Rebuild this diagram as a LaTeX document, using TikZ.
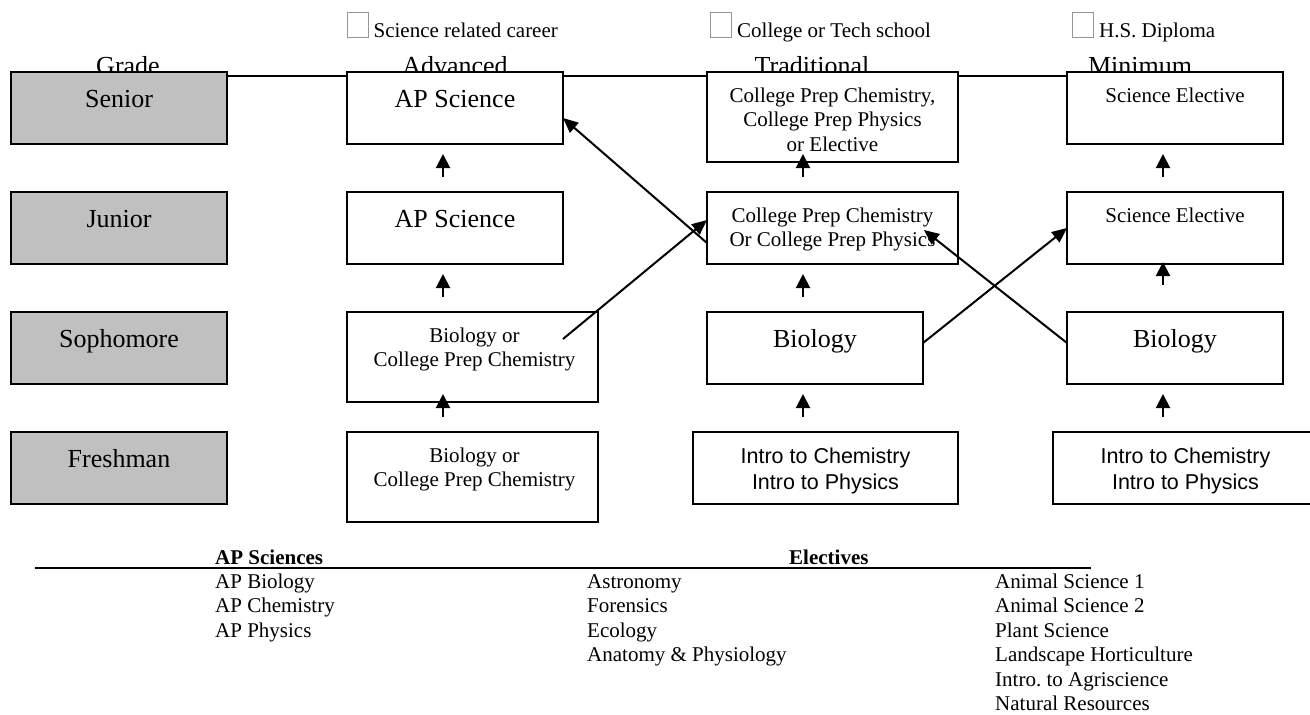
\documentclass[tikz,border=0pt]{standalone}
\usepackage{fontspec}
\setmainfont{Liberation Serif}
\newfontfamily\introfont{Liberation Sans}
\usetikzlibrary{arrows.meta, calc, backgrounds}

\definecolor{gradegray}{RGB}{192,192,192}
\definecolor{tickgray}{RGB}{150,150,150}
\newcommand{\bigtxt}{\fontsize{26}{30}\selectfont}
\newcommand{\smalltxt}{\fontsize{21}{24.5}\selectfont}
\newcommand{\introtxt}{\introfont\fontsize{21.5}{26.5}\selectfont}

\tikzset{
  coursebox/.style={draw, line width=2.4pt, fill=white, inner sep=0pt, outer sep=0pt},
  gradebox/.style={coursebox, fill=gradegray},
  bigtext/.style={font=\bigtxt, inner sep=0pt, anchor=base},
  smalltext/.style={font=\smalltxt, inner sep=0pt, align=center, anchor=north},
  introtext/.style={font=\introtxt, inner sep=0pt, align=center, anchor=north},
  itemtext/.style={font=\smalltxt, inner sep=0pt, anchor=base west},
  checkbox/.style={draw=tickgray, line width=0.9pt, minimum width=21pt, minimum height=25pt, inner sep=0pt},
  steparrow/.style={-{Triangle[length=14pt,width=14pt]}, line width=2pt},
  crossarrow/.style={-{Triangle[length=15pt,width=13pt]}, line width=2pt}
}

\begin{document}
\begin{tikzpicture}[x=1pt,y=-1pt]
\useasboundingbox (0,0) rectangle (1310,715);

% goals
\node[checkbox] (cadv) at (357.5,24.5) {};
\node[itemtext] (gadv) at ($(cadv.south east)+(5,0)$) {Science related career};
\node[checkbox] (ctrad) at (721,24.5) {};
\node[itemtext] (gtrad) at ($(ctrad.south east)+(5,0)$) {College or Tech school};
\node[checkbox] (cmin) at (1083,24.5) {};
\node[itemtext] (gmin) at ($(cmin.south east)+(5,0)$) {H.S. Diploma};

% column heads
\node[bigtext] (hgrade) at (128,74) {Grade};
\node[bigtext] (hadv) at (455,74) {Advanced};
\node[bigtext] (htrad) at (812,74) {Traditional};
\node[bigtext] (hmin) at (1140,74) {Minimum};

% grades
\node[gradebox, minimum width=216pt, minimum height=72pt] (gs) at (119,108) {};
\node[gradebox, minimum width=216pt, minimum height=72pt] (gj) at (119,228) {};
\node[gradebox, minimum width=216pt, minimum height=72pt] (gp) at (119,348) {};
\node[gradebox, minimum width=216pt, minimum height=72pt] (gf) at (119,468) {};

% advanced
\node[coursebox, minimum width=216pt, minimum height=72pt] (as) at (455,108) {};
\node[coursebox, minimum width=216pt, minimum height=72pt] (aj) at (455,228) {};
\node[coursebox, minimum width=251pt, minimum height=90pt] (ap) at (472.5,357) {};
\node[coursebox, minimum width=251pt, minimum height=90pt] (af) at (472.5,477) {};

% traditional
\node[coursebox, minimum width=251pt, minimum height=90pt] (ts) at (832.5,117) {};
\node[coursebox, minimum width=251pt, minimum height=72pt] (tj) at (832.5,228) {};
\node[coursebox, minimum width=216pt, minimum height=72pt] (tp) at (815,348) {};
\node[coursebox, minimum width=265pt, minimum height=72pt] (tf) at (825.5,468) {};

% minimum
\node[coursebox, minimum width=216pt, minimum height=72pt] (ms) at (1175,108) {};
\node[coursebox, minimum width=216pt, minimum height=72pt] (mj) at (1175,228) {};
\node[coursebox, minimum width=216pt, minimum height=72pt] (mp) at (1175,348) {};
\node[coursebox, minimum width=265pt, minimum height=72pt] (mf) at (1185.5,468) {};

\begin{scope}[on background layer]
  \draw[line width=2.4pt] ($(gs.north east)+(0,4)$) -- ($(ms.north west)+(0,4)$);
\end{scope}

\node[bigtext] (tgs) at ($(gs.north)+(0,35)$) {Senior};
\node[bigtext] (tgj) at ($(gj.north)+(0,35)$) {Junior};
\node[bigtext] (tgp) at ($(gp.north)+(0,35)$) {Sophomore};
\node[bigtext] (tgf) at ($(gf.north)+(0,35)$) {Freshman};

\node[bigtext] (tas) at ($(as.north)+(0,35)$) {AP Science};
\node[bigtext] (taj) at ($(aj.north)+(0,35)$) {AP Science};
\node[smalltext] (tap) at ($(ap.north)+(2,15.7)$) {Biology or\\College Prep Chemistry};
\node[smalltext] (taf) at ($(af.north)+(2,15.7)$) {Biology or\\College Prep Chemistry};

\node[smalltext] (tts) at ($(ts.north)+(0,15.7)$) {College Prep Chemistry,\\College Prep Physics\\or Elective};
\node[smalltext] (ttj) at ($(tj.north)+(0,15.7)$) {College Prep Chemistry\\Or College Prep Physics};
\node[bigtext] (ttp) at ($(tp.north)+(0,35)$) {Biology};
\node[introtext] (ttf) at ($(tf.north)+(0,15.3)$) {Intro to Chemistry\\Intro to Physics};

\node[smalltext] (tms) at ($(ms.north)+(0,15.7)$) {Science Elective};
\node[smalltext] (tmj) at ($(mj.north)+(0,15.7)$) {Science Elective};
\node[bigtext] (tmp) at ($(mp.north)+(0,35)$) {Biology};
\node[introtext] (tmf) at ($(mf.north)+(0,15.3)$) {Intro to Chemistry\\Intro to Physics};

% arrows up the columns
\coordinate (ax) at (443,0);
\coordinate (tx) at (803,0);
\coordinate (mx) at (1163,0);
\foreach \lo/\hi/\col/\a/\b in {aj/as/ax/-15/10, ap/aj/ax/-15/10, af/ap/ax/-15/-8,
                                tj/ts/tx/-15/-8, tp/tj/tx/-15/10, tf/tp/tx/-15/10,
                                mj/ms/mx/-15/10, mp/mj/mx/-27/-2, mf/mp/mx/-15/10}
  \draw[steparrow] ($(\col |- \lo.north)+(0,\a)$) -- ($(\col |- \hi.south)+(0,\b)$);

% cross overs
\draw[crossarrow] ($(tj.west)+(0,15)$) -- ($(as.east)+(0,10)$);
\draw[crossarrow] ($(ap.east)+(-35,-18)$) -- ($(tj.west)+(0,-8)$);
\draw[crossarrow] ($(tp.east)+(0,-5)$) -- (mj.west);
\draw[crossarrow] ($(mp.west)+(0,-5)$) -- ($(tj.east)+(-34,2)$);

% course lists
\draw[line width=2.4pt] (35,568) -- (1091,568);
\node[itemtext, font=\smalltxt\bfseries] (hap) at (215,564) {AP Sciences};
\node[itemtext, font=\smalltxt\bfseries] (hel) at (789,564) {Electives};
\foreach \txt [count=\i] in {AP Biology, AP Chemistry, AP Physics}
  \node[itemtext] (lap\i) at (215,563.5+24.5*\i) {\txt};
\foreach \txt [count=\i] in {Astronomy, Forensics, Ecology, Anatomy \& Physiology}
  \node[itemtext] (lel\i) at (587,563.5+24.5*\i) {\txt};
\foreach \txt [count=\i] in {Animal Science 1, Animal Science 2, Plant Science,
                             Landscape Horticulture, Intro.\ to Agriscience, Natural Resources}
  \node[itemtext] (lag\i) at (995,563.5+24.5*\i) {\txt};

\end{tikzpicture}
\end{document}
